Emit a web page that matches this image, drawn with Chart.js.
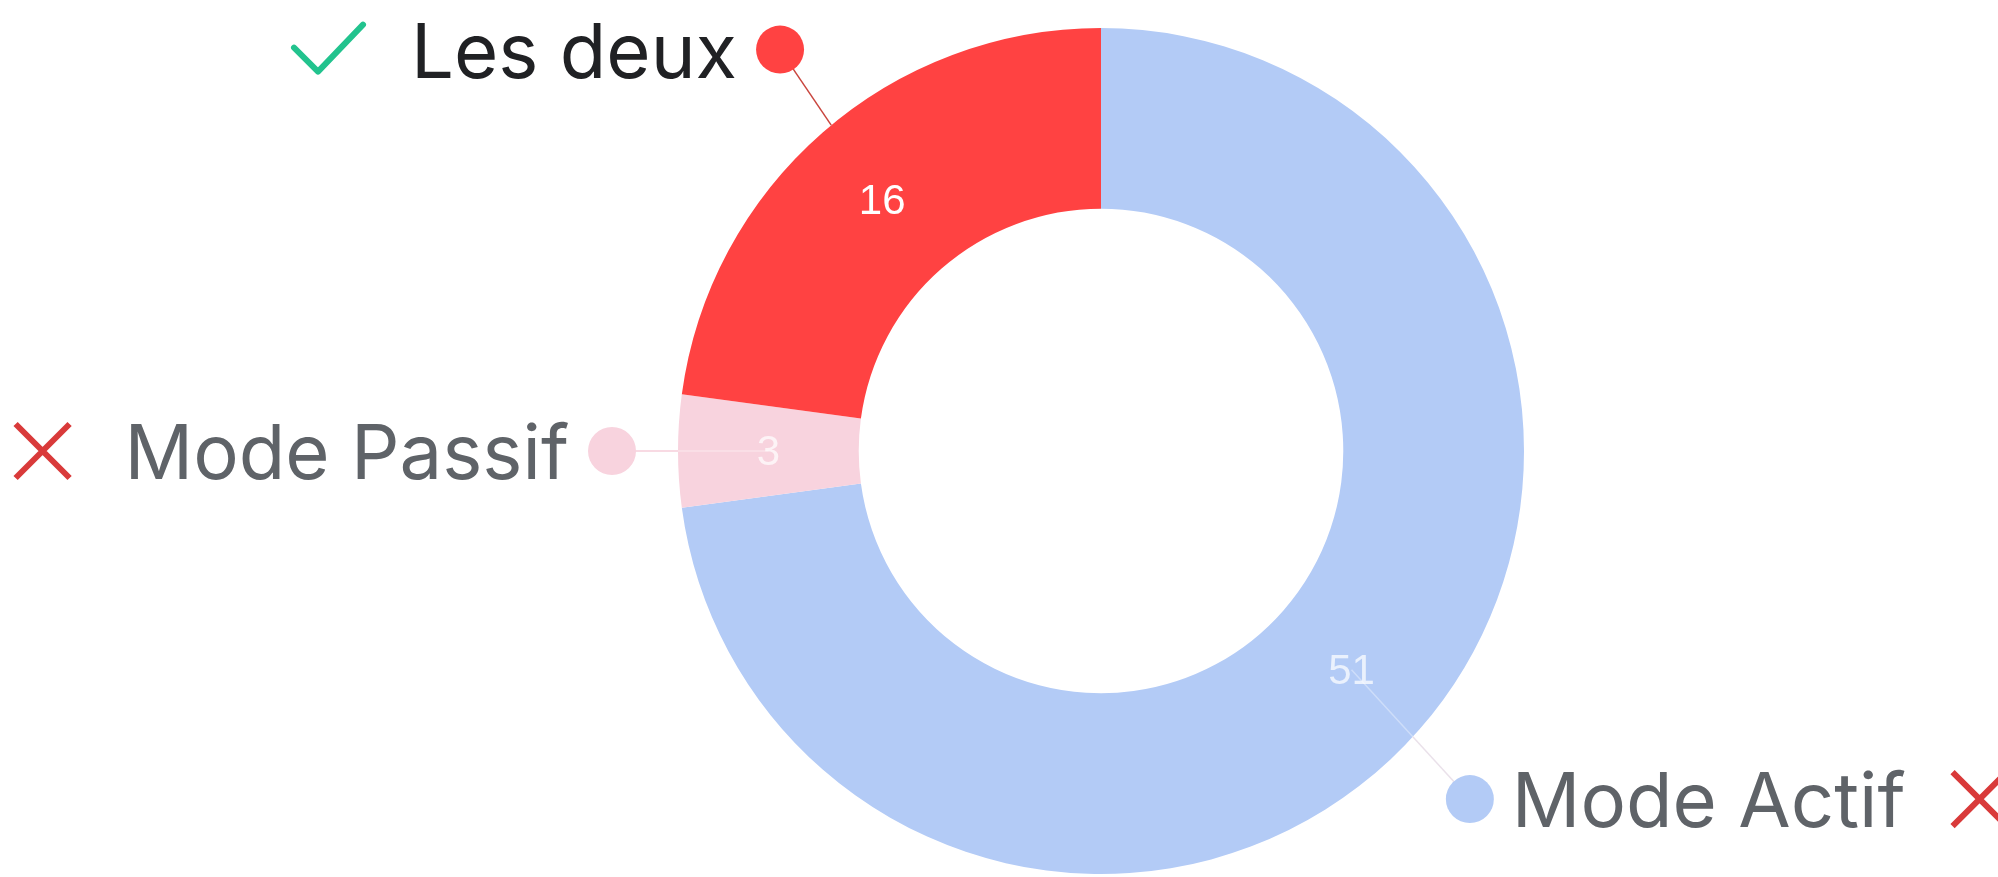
<!DOCTYPE html>
<html><head><meta charset="utf-8">
<script src="https://cdn.jsdelivr.net/npm/chart.js@4/dist/chart.umd.min.js"></script>
<style>html,body{margin:0;padding:0;background:#fff;overflow:hidden}
#wrap{position:relative;width:1998px;height:877px}
#wrap canvas{position:absolute;left:0;top:0}
.lbl{position:absolute;font:400 76px Inter, sans-serif;line-height:76px;white-space:nowrap}
.val{position:absolute;font:400 42px "Liberation Sans", Arial, sans-serif;line-height:42px;white-space:nowrap;transform:translate(-50%,-50%)}
</style>
</head><body>
<div id="wrap">
<canvas id="c" width="1998" height="877"></canvas>
<canvas id="ov" width="1998" height="877"></canvas>
</div>
<script>
// ---- data ----
const categories = ['Mode Actif', 'Mode Passif', 'Les deux'];
const values = [51, 3, 16];
const sliceColors = ['#b3cbf6', '#f8d3de', '#ff4242'];
const leaderOuterColors = ['rgba(232,222,232,0.9)', 'rgba(245,200,214,0.9)', '#c9463f'];
const leaderInnerColors = ['rgba(255,255,255,0.35)', 'rgba(255,255,255,0.35)', null];
const valueLabelColors = ['rgba(255,255,255,0.72)', 'rgba(255,255,255,0.72)', '#ffffff'];
const labelTextColors = ['#5f6368', '#5f6368', '#202124'];
const labelIcons = ['cross', 'cross', 'check'];
const labelRadius = [1.199, 1.156, 1.215];
const labelAngleShift = [2.2, 0, 2.5];

function drawIcon(ctx, type, cx, cy) {
  ctx.save();
  ctx.lineWidth = 6;
  ctx.lineCap = 'round';
  ctx.lineJoin = 'round';
  ctx.beginPath();
  if (type === 'check') {
    ctx.strokeStyle = '#22c38e';
    ctx.moveTo(cx - 35, cy - 2);
    ctx.lineTo(cx - 11, cy + 22);
    ctx.lineTo(cx + 34, cy - 25);
  } else {
    ctx.strokeStyle = '#d93a3a';
    ctx.lineCap = 'butt';
    ctx.moveTo(cx - 27, cy - 27); ctx.lineTo(cx + 27, cy + 27);
    ctx.moveTo(cx + 27, cy - 27); ctx.lineTo(cx - 27, cy + 27);
  }
  ctx.stroke();
  ctx.restore();
}

const outerLabels = {
  id: 'outerLabels',
  afterRender(chart) {
    const wrap = document.getElementById('wrap');
    wrap.querySelectorAll('.lbl,.val').forEach(e => e.remove());
    const ov = document.getElementById('ov');
    const ctx = ov.getContext('2d');
    ctx.clearRect(0, 0, ov.width, ov.height);
    const W = ov.width;
    const meta = chart.getDatasetMeta(0);
    meta.data.forEach((arc, i) => {
      const p = arc.getProps(['x', 'y', 'startAngle', 'endAngle', 'innerRadius', 'outerRadius'], true);
      const mid = (p.startAngle + p.endAngle) / 2;
      const vr = (p.innerRadius + p.outerRadius) / 2;
      const vx = p.x + Math.cos(mid) * vr;
      const vy = p.y + Math.sin(mid) * vr;
      const a = mid + labelAngleShift[i] * Math.PI / 180;
      const dr = p.outerRadius * labelRadius[i];
      const dx = p.x + Math.cos(a) * dr;
      const dy = p.y + Math.sin(a) * dr;

      const ux = dx - vx, uy = dy - vy;
      const fx = vx - p.x, fy = vy - p.y;
      const A = ux * ux + uy * uy, B = 2 * (fx * ux + fy * uy), C = fx * fx + fy * fy - p.outerRadius * p.outerRadius;
      const t = (-B + Math.sqrt(B * B - 4 * A * C)) / (2 * A);
      const ex = vx + ux * t, ey = vy + uy * t;

      ctx.save();
      ctx.lineWidth = 1.5;
      if (leaderInnerColors[i]) {
        ctx.strokeStyle = leaderInnerColors[i];
        ctx.beginPath(); ctx.moveTo(vx, vy); ctx.lineTo(ex, ey); ctx.stroke();
      }
      ctx.strokeStyle = leaderOuterColors[i];
      ctx.beginPath(); ctx.moveTo(ex, ey); ctx.lineTo(dx, dy); ctx.stroke();
      ctx.fillStyle = sliceColors[i];
      ctx.beginPath(); ctx.arc(dx, dy, 24, 0, Math.PI * 2); ctx.fill();
      ctx.restore();

      // value label (real text)
      const v = document.createElement('div');
      v.className = 'val';
      v.textContent = String(values[i]);
      v.style.color = valueLabelColors[i];
      v.style.left = vx + 'px';
      v.style.top = vy + 'px';
      wrap.appendChild(v);

      // category label (real text)
      const l = document.createElement('div');
      l.className = 'lbl';
      l.textContent = categories[i];
      l.style.color = labelTextColors[i];
      l.style.top = (dy - 38) + 'px';
      wrap.appendChild(l);
      const w = l.getBoundingClientRect().width;
      if (dx < p.x) {
        const tr = dx - 43;
        l.style.right = (W - tr) + 'px';
        drawIcon(ctx, labelIcons[i], tr - w - 82, dy);
      } else {
        const tl = dx + 42;
        l.style.left = tl + 'px';
        drawIcon(ctx, labelIcons[i], tl + w + 74, dy);
      }
    });
  }
};

new Chart(document.getElementById('c'), {
  type: 'doughnut',
  data: {
    labels: categories,
    datasets: [{
      data: values,
      backgroundColor: sliceColors,
      borderWidth: 0,
      radius: 423,
      cutout: 244
    }]
  },
  options: {
    responsive: false,
    animation: false,
    events: [],
    layout: { padding: { left: 204, right: 0, top: 25, bottom: 0 } },
    plugins: { legend: { display: false }, tooltip: { enabled: false } }
  },
  plugins: [outerLabels]
});
</script>
</body></html>
